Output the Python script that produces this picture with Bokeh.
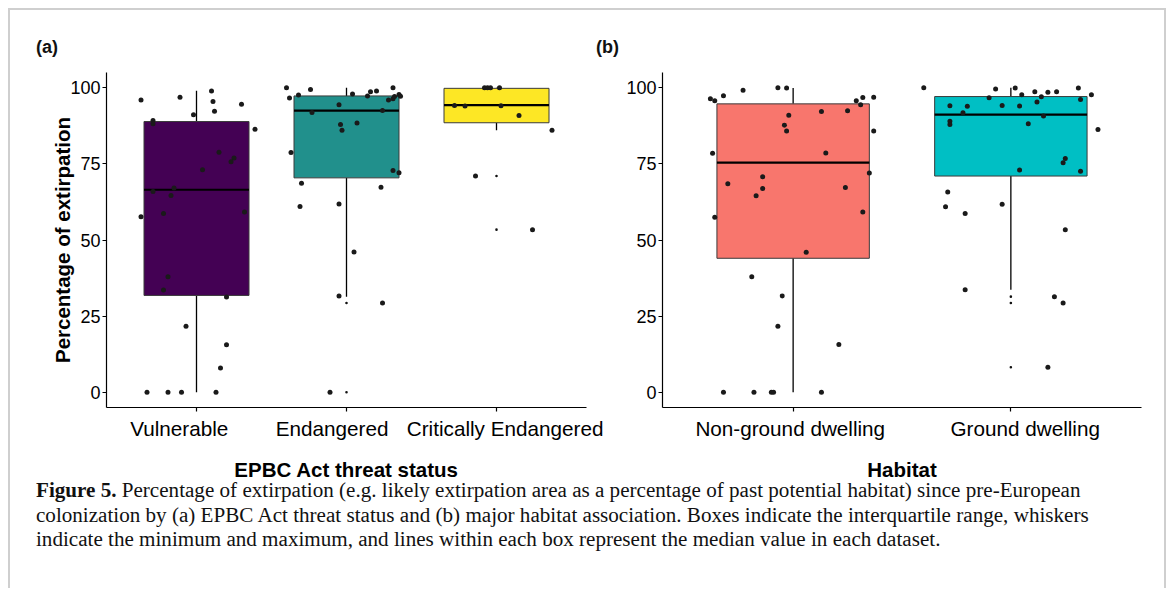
from bokeh.plotting import figure
from bokeh.models import Range1d, FixedTicker, Div, ColumnDataSource
from bokeh.layouts import row, column
from bokeh.embed import file_html
from bokeh.resources import INLINE

# ---------------- Panel (a): EPBC Act threat status ----------------
status_cats = ["Vulnerable", "Endangered", "Critically Endangered"]
status_colors = ["#440154", "#21908C", "#FDE725"]
status_q1 = [31.8, 70.4, 88.5]
status_median = [66.5, 92.5, 94.3]
status_q3 = [88.9, 97.3, 99.8]
status_whisker_lo = [0.0, 31.4, 86.0]
status_whisker_hi = [99.0, 100.0, 100.0]
status_outliers = [[], [29.3, 0.0], [71.0, 53.4]]

vulnerable_vals = [96.0, 96.9, 98.9, 95.5, 94.6, 92.3, 91.1, 89.2, 88.2, 86.4, 78.8, 76.9, 75.7, 73.1,
                   67.1, 65.9, 64.6, 57.6, 58.7, 59.2, 37.9, 33.6, 31.3, 21.7, 15.6, 8.0, 0, 0, 0, 0]
vulnerable_jitter = [-0.37, -0.11, 0.10, 0.11, 0.30, 0.12, -0.02, -0.29, -0.29, 0.39, 0.15, 0.25, 0.23, 0.04,
                     -0.15, -0.29, -0.17, -0.37, -0.22, 0.32, -0.19, -0.22, 0.20, -0.07, 0.20, 0.16,
                     -0.33, -0.19, -0.10, 0.13]
endangered_vals = [100, 96.6, 97.6, 99.4, 91.9, 94.4, 97.9, 97.3, 98.7, 98.9, 100, 96.0, 96.4, 97.1, 97.8,
                   97.2, 92.5, 87.9, 86.0, 88.4, 78.7, 72.8, 72.1, 68.6, 67.3, 61.0, 61.8, 46.1, 31.6, 29.3, 0]
endangered_jitter = [-0.40, -0.38, -0.32, -0.24, -0.23, -0.05, 0.04, 0.14, 0.16, 0.20, 0.31, 0.28, 0.31, 0.32,
                     0.35, 0.36, 0.24, -0.04, -0.03, 0.07, -0.37, 0.31, 0.35, -0.30, 0.23, -0.31, -0.05,
                     0.05, -0.05, 0.24, -0.11]
critical_vals = [100, 100, 100, 100, 94.2, 94.0, 94.1, 90.9, 86.0, 71.0, 53.4]
critical_jitter = [-0.08, -0.06, -0.04, 0.02, -0.28, -0.21, 0.03, 0.15, 0.37, -0.14, 0.24]

# ---------------- Panel (b): Habitat ----------------
habitat_cats = ["Non-ground dwelling", "Ground dwelling"]
habitat_colors = ["#F8766D", "#00BFC4"]
habitat_q1 = [44.0, 71.0]
habitat_median = [75.4, 91.2]
habitat_q3 = [94.7, 97.1]
habitat_whisker_lo = [0.0, 33.7]
habitat_whisker_hi = [99.9, 100.0]
habitat_outliers = [[], [31.4, 29.3, 8.2]]

nonground_vals = [96.4, 95.7, 97.4, 99.2, 100, 99.9, 91.0, 87.7, 85.8, 92.2, 92.4, 95.7, 94.4, 96.8, 96.9,
                  85.8, 78.5, 78.6, 72.0, 68.5, 70.8, 66.9, 64.5, 67.2, 57.5, 59.2, 46.0, 37.9, 31.6, 21.7,
                  15.7, 0, 0, 0, 0, 0]
nonground_jitter = [-0.38, -0.36, -0.32, -0.23, -0.07, -0.03, -0.02, -0.04, -0.03, 0.13, 0.25, 0.29, 0.31,
                    0.32, 0.37, 0.37, -0.37, 0.15, 0.35, -0.30, -0.14, -0.14, -0.17, 0.24, -0.36, 0.32,
                    0.06, -0.19, -0.05, -0.07, 0.21, -0.32, -0.18, -0.10, -0.09, 0.13]
ground_vals = [100, 99.6, 99.9, 97.7, 98.7, 98.5, 98.7, 99.9, 97.7, 97.0, 96.7, 96.1, 95.3, 94.1, 93.9,
               94.2, 94.0, 91.8, 90.7, 89.0, 87.9, 88.2, 86.3, 76.8, 75.4, 73.0, 72.6, 65.8, 60.9, 61.7,
               58.7, 53.4, 33.7, 31.4, 29.3, 8.2]
ground_jitter = [-0.40, -0.07, 0.02, 0.05, 0.11, 0.17, 0.21, 0.31, 0.37, 0.14, -0.10, 0.32, 0.12, -0.28,
                 -0.20, -0.04, 0.04, -0.22, 0.15, -0.28, -0.28, 0.08, 0.40, 0.25, 0.24, 0.04, 0.32, -0.29,
                 -0.30, -0.04, -0.21, 0.25, -0.21, 0.20, 0.24, 0.17]

y_ticks = [0, 25, 50, 75, 100]

FONT = "Liberation Sans"
BOX_HALF = 0.35
NB = "\u00a0"
# label padding (non-breaking spaces) so each label sits where the reference prints it
status_label_pad = [(0, 6), (0, 5), (3, 0)]
habitat_label_pad = [(0, 1), (5, 0)]


def build_panel(cats, colors, q1, med, q3, wlo, whi, outliers, vals_list, jit_list,
                xlabel, ylabel, width, min_left, min_right, pads):
    n = len(cats)
    xs = [i + 1 for i in range(n)]
    p = figure(width=width, height=427, output_backend="svg", toolbar_location=None,
               x_range=Range1d(0.4, n + 0.6), y_range=Range1d(-5, 105),
               min_border_left=min_left, min_border_right=min_right,
               min_border_top=14, min_border_bottom=78)
    p.outline_line_color = None
    p.xgrid.visible = False
    p.ygrid.visible = False
    p.background_fill_color = "white"
    p.border_fill_color = "white"

    # whiskers
    wsrc = ColumnDataSource(dict(x=xs, lo=wlo, q1=q1, q3=q3, hi=whi))
    p.segment(x0="x", x1="x", y0="lo", y1="q1", source=wsrc, line_color="black", line_width=1.3)
    p.segment(x0="x", x1="x", y0="q3", y1="hi", source=wsrc, line_color="black", line_width=1.3)
    # boxes
    bsrc = ColumnDataSource(dict(l=[x - BOX_HALF for x in xs], r=[x + BOX_HALF for x in xs],
                                 q1=q1, q3=q3, med=med, c=colors))
    p.quad(left="l", right="r", bottom="q1", top="q3", source=bsrc, fill_color="c",
           line_color="#3a3a3a", line_width=1)
    p.segment(x0="l", x1="r", y0="med", y1="med", source=bsrc, line_color="black", line_width=2.2)
    # outliers (boxplot's small dots)
    ox, oy = [], []
    for x, outs in zip(xs, outliers):
        for v in outs:
            ox.append(x)
            oy.append(v)
    p.scatter(ox, oy, size=2.6, fill_color="#111111", line_color=None)
    # jittered points
    px, py = [], []
    for x, vals, jits in zip(xs, vals_list, jit_list):
        for v, j in zip(vals, jits):
            px.append(x + j)
            py.append(v)
    p.scatter(px, py, size=5, fill_color="#1a1a1a", line_color=None)

    # axes
    p.xaxis.ticker = FixedTicker(ticks=xs)
    p.xaxis.major_label_overrides = {x: NB * a + c + NB * b for x, c, (a, b) in zip(xs, cats, pads)}
    p.yaxis.ticker = FixedTicker(ticks=y_ticks)
    for ax in (p.xaxis[0], p.yaxis[0]):
        ax.axis_line_color = "black"
        ax.axis_line_width = 1.2
        ax.major_tick_line_color = "black"
        ax.major_tick_line_width = 1.2
        ax.major_tick_in = 0
        ax.major_tick_out = 4
        ax.minor_tick_line_color = None
        ax.major_label_text_font = FONT
        ax.major_label_text_color = "black"
        ax.axis_label_text_font = FONT
        ax.axis_label_text_font_style = "bold"
        ax.axis_label_text_font_size = "20.5px"
        ax.axis_label_text_color = "black"
    p.xaxis.major_label_text_font_size = "20.7px"
    p.xaxis.major_label_standoff = 5
    p.yaxis.major_label_text_font_size = "18px"
    p.yaxis.major_label_standoff = 2
    p.xaxis.axis_label = xlabel
    p.xaxis.axis_label_standoff = 15
    p.yaxis.axis_label = ylabel
    p.yaxis.axis_label_standoff = -7
    return p


pa = build_panel(status_cats, status_colors, status_q1, status_median, status_q3,
                 status_whisker_lo, status_whisker_hi, status_outliers,
                 [vulnerable_vals, endangered_vals, critical_vals],
                 [vulnerable_jitter, endangered_jitter, critical_jitter],
                 "EPBC Act threat status", "Percentage of extirpation",
                 width=612, min_left=96, min_right=36, pads=status_label_pad)
pb = build_panel(habitat_cats, habitat_colors, habitat_q1, habitat_median, habitat_q3,
                 habitat_whisker_lo, habitat_whisker_hi, habitat_outliers,
                 [nonground_vals, ground_vals], [nonground_jitter, ground_jitter],
                 "Habitat", None, width=542, min_left=40, min_right=23, pads=habitat_label_pad)

tag_style = ("position:absolute; top:25px; font-family:'Liberation Sans', sans-serif; "
             "font-size:18px; font-weight:bold; color:#111;")
header_html = (
    "<div style=\"position:relative; width:1154px; height:48px;\">"
    f"<span style=\"{tag_style} left:26px;\">(a)</span>"
    f"<span style=\"{tag_style} left:586px;\">(b)</span>"
    "</div>"
)
header = Div(text=header_html, width=1154, height=48, margin=0)

caption_html = (
    "<div style=\"position:relative; top:-7px; font-family:'Liberation Serif', serif; font-size:21.1px; "
    "line-height:24.5px; padding-left:26px; white-space:nowrap; color:#111;\">"
    "<b>Figure 5.</b> Percentage of extirpation (e.g. likely extirpation area as a percentage of past "
    "potential habitat) since pre-European<br>"
    "colonization by (a) EPBC Act threat status and (b) major habitat association. Boxes indicate the "
    "interquartile range, whiskers<br>"
    "indicate the minimum and maximum, and lines within each box represent the median value in each dataset."
    "</div>"
)
cap = Div(text=caption_html, width=1154, height=103, margin=0)

layout = column(header, row(pa, pb), cap,
                styles={"margin-left": "8px", "margin-top": "8px",
                        "border-left": "2px solid #cfcfcf", "border-top": "2px solid #cfcfcf",
                        "border-right": "2px solid #cfcfcf", "background": "white"})

open("out.html", "w").write(file_html(layout, INLINE, "Figure 5"))
